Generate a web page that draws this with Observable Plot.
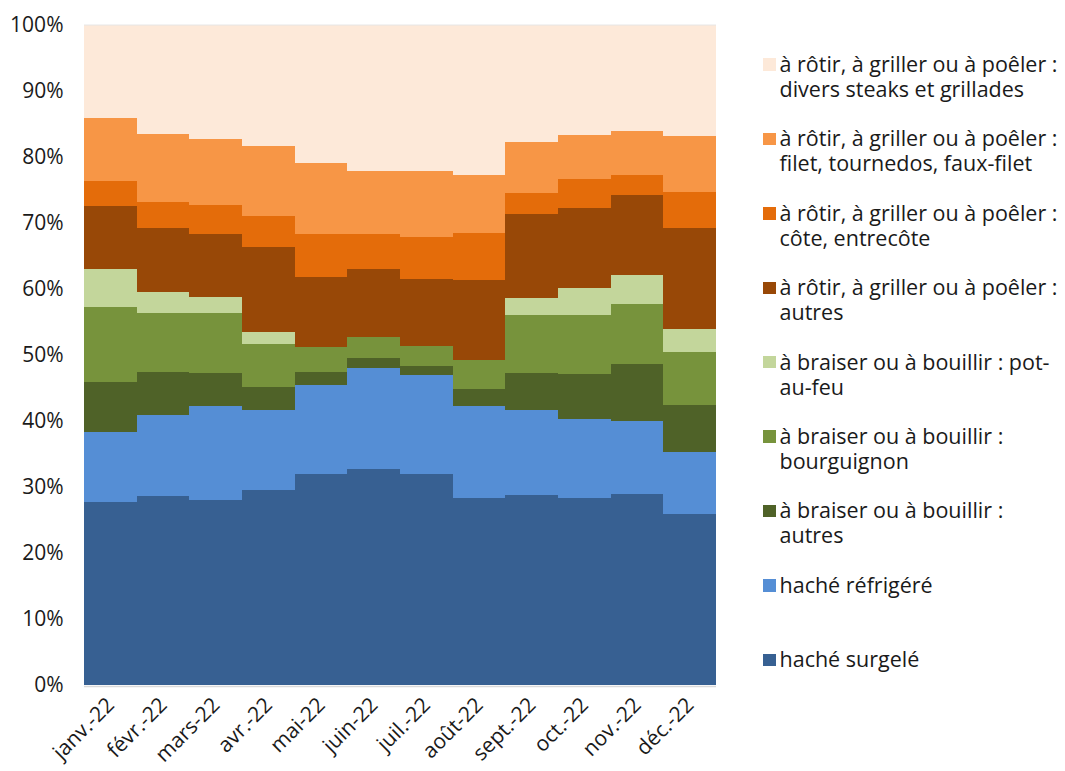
<!DOCTYPE html>
<html>
<head>
<meta charset="utf-8">
<script src="https://cdn.jsdelivr.net/npm/d3@7"></script>
<script src="https://cdn.jsdelivr.net/npm/@observablehq/plot@0.6"></script>
<style>
  html, body { margin: 0; padding: 0; background: #fff; }
  #wrap { position: relative; width: 1065px; height: 771px; font-family: "Open Sans", sans-serif; color: #1a1a1a; }
  #chart { position: absolute; left: 0; top: 0; }
  .leg { position: absolute; left: 763px; font-size: 21.5px; line-height: 25px; }
  .leg .sw { position: absolute; left: 0; top: 7.4px; width: 12.5px; height: 12.5px; }
  .leg .tx { position: absolute; left: 16.5px; top: 0; white-space: nowrap; }
</style>
</head>
<body>
<div id="wrap"><div id="chart"></div></div>
<script>
const months = ["janv.-22","févr.-22","mars-22","avr.-22","mai-22","juin-22","juil.-22","août-22","sept.-22","oct.-22","nov.-22","déc.-22"];

// series, bottom to top of the stack (values in %)
const hacheSurgele      = [27.8, 28.6, 28.1, 29.5, 32.0, 32.7, 31.9, 28.4, 28.8, 28.4, 29.0, 25.9];
const hacheRefrigere    = [10.6, 12.3, 14.2, 12.1, 13.5, 15.3, 15.1, 13.8, 12.9, 11.9, 11.0, 9.4];
const braiserAutres     = [7.5, 6.6, 4.9, 3.6, 2.0, 1.5, 1.4, 2.7, 5.5, 6.8, 8.7, 7.1];
const braiserBourguignon= [11.3, 8.9, 9.2, 6.4, 3.7, 3.2, 3.0, 4.4, 8.9, 9.0, 9.1, 8.1];
const braiserPotAuFeu   = [5.8, 3.2, 2.4, 1.9, 0, 0, 0, 0, 2.6, 4.1, 4.3, 3.5];
const rotirAutres       = [9.6, 9.6, 9.6, 12.8, 10.6, 10.3, 10.1, 12.1, 12.6, 12.0, 12.1, 15.3];
const rotirCote         = [3.7, 4.0, 4.4, 4.7, 6.5, 5.3, 6.4, 7.1, 3.3, 4.5, 3.0, 5.4];
const rotirFilet        = [9.6, 10.3, 9.9, 10.7, 10.8, 9.6, 10.0, 8.8, 7.6, 6.6, 6.8, 8.5];
const rotirDivers       = [14.1, 16.5, 17.3, 18.3, 20.9, 22.1, 22.1, 22.7, 17.8, 16.7, 16.0, 16.8];

const seriesNames = [
  "haché surgelé",
  "haché réfrigéré",
  "à braiser ou à bouillir : autres",
  "à braiser ou à bouillir : bourguignon",
  "à braiser ou à bouillir : pot-au-feu",
  "à rôtir, à griller ou à poêler : autres",
  "à rôtir, à griller ou à poêler : côte, entrecôte",
  "à rôtir, à griller ou à poêler : filet, tournedos, faux-filet",
  "à rôtir, à griller ou à poêler : divers steaks et grillades"
];
const legendLines = [
  ["haché surgelé"],
  ["haché réfrigéré"],
  ["à braiser ou à bouillir :", "autres"],
  ["à braiser ou à bouillir :", "bourguignon"],
  ["à braiser ou à bouillir : pot-", "au-feu"],
  ["à rôtir, à griller ou à poêler :", "autres"],
  ["à rôtir, à griller ou à poêler :", "côte, entrecôte"],
  ["à rôtir, à griller ou à poêler :", "filet, tournedos, faux-filet"],
  ["à rôtir, à griller ou à poêler :", "divers steaks et grillades"]
];
const seriesValues = [hacheSurgele, hacheRefrigere, braiserAutres, braiserBourguignon, braiserPotAuFeu, rotirAutres, rotirCote, rotirFilet, rotirDivers];
const colors = ["#376092", "#558ED5", "#4F6228", "#77933C", "#C3D69B", "#984807", "#E46C0A", "#F79646", "#FDE9D9"];

const data = [];
seriesNames.forEach((s, i) => months.forEach((m, j) => data.push({month: m, series: s, value: seriesValues[i][j]})));

const chart = Plot.plot({
  width: 740,
  height: 771,
  marginLeft: 84,
  marginRight: 24,
  marginTop: 25,
  marginBottom: 86,
  style: {fontFamily: "'Open Sans', sans-serif", fontSize: "21px", color: "#1a1a1a", background: "transparent"},
  x: {domain: months, padding: 0, round: false},
  y: {domain: [0, 100]},
  color: {domain: seriesNames, range: colors},
  marks: [
    Plot.barY(data, {x: "month", y: "value", fill: "series", shapeRendering: "crispEdges"}),
    Plot.ruleY([0], {stroke: "#d9d9d9", strokeWidth: 1.5, dy: 1}),
    Plot.ruleY([100], {stroke: "#e6e6e6", strokeWidth: 1, dy: -0.5}),
    Plot.axisY({ticks: d3.range(0, 101, 10), tickFormat: d => d + "%", tickSize: 0, tickPadding: 21, label: null, fontSize: 21}),
    Plot.axisX({tickSize: 0, tickRotate: -45, tickPadding: 16, label: null, fontSize: 21})
  ]
});
document.getElementById("chart").appendChild(chart);

// legend (top to bottom = top of stack first)
const wrap = document.getElementById("wrap");
const order = d3.range(seriesNames.length).reverse();
order.forEach((idx, k) => {
  const div = document.createElement("div");
  div.className = "leg";
  div.style.top = (51 + 74.4 * k) + "px";
  const sw = document.createElement("div");
  sw.className = "sw";
  sw.style.background = colors[idx];
  const tx = document.createElement("div");
  tx.className = "tx";
  tx.innerHTML = legendLines[idx].join("<br>");
  div.appendChild(sw);
  div.appendChild(tx);
  wrap.appendChild(div);
});
</script>
</body>
</html>
